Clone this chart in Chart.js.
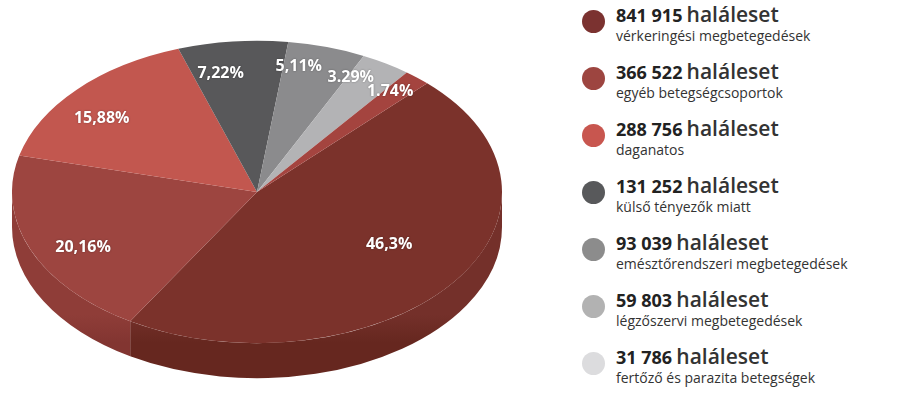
<!DOCTYPE html>
<html>
<head>
<meta charset="utf-8">
<script src="https://cdn.jsdelivr.net/npm/chart.js@4.4.1/dist/chart.umd.min.js"></script>
<style>
  html, body { margin: 0; padding: 0; background: #fff; width: 900px; height: 396px; overflow: hidden; font-family: "Open Sans", sans-serif; }
  #wrap { position: absolute; left: 12px; top: -53px; width: 490px; height: 490px; }
  .row { position: absolute; left: 582px; width: 316px; }
  .dot { position: absolute; left: 0; top: 9px; width: 23px; height: 23px; border-radius: 50%; }
  .l1 { position: absolute; left: 34px; top: 0; white-space: nowrap; line-height: 26px; color: #333; }
  .num { font-weight: 700; font-size: 18px; color: #222; }
  .hal { font-weight: 600; font-size: 21px; color: #333; }
  .l2 { position: absolute; left: 34px; top: 26px; white-space: nowrap; font-size: 14px; line-height: 18px; color: #333; }
</style>
</head>
<body>
<div id="wrap"><canvas id="pie" width="490" height="490"></canvas></div>
<div id="legend"></div>
<script>
// halálesetek száma, a jelmagyarázat sorrendjében
const deaths = [841915, 366522, 288756, 131252, 93039, 59803, 31786];
const causes = [
  "vérkeringési megbetegedések",
  "egyéb betegségcsoportok",
  "daganatos",
  "külső tényezők miatt",
  "emésztőrendszeri megbetegedések",
  "légzőszervi megbetegedések",
  "fertőző és parazita betegségek"
];
const pctLabels = ["46,3%", "20,16%", "15,88%", "7,22%", "5,11%", "3.29%", "1.74%"];

const faceColors = ["#7b322b", "#9d4540", "#c2574f", "#58585a", "#8b8b8d", "#b3b3b5", "#a4443f"];
const sideTop = ["#74302a", "#8f3d38", "#a94a44", "#4c4c4e", "#787879", "#9c9c9e", "#8f3b37"];
const sideBottom = ["#66271f", "#823531", "#98413b", "#424244", "#69696b", "#8a8a8c", "#7f3330"];
const legendColors = ["#7b3230", "#9d4540", "#c8564f", "#58595b", "#8c8c8c", "#b2b2b2", "#dcdcde"];

const squish = 0.617;  // függőleges lapítás
const depth = 35;      // oldalfal vastagsága pixelben
const labelShift = -5 * Math.PI / 180;

// legend
const legend = document.getElementById("legend");
deaths.forEach((v, i) => {
  const row = document.createElement("div");
  row.className = "row";
  row.style.top = (1 + 57 * i) + "px";
  const num = String(v).replace(/\B(?=(\d{3})+(?!\d))/g, " ");
  row.innerHTML =
    '<div class="dot" style="background:' + legendColors[i] + '"></div>' +
    '<div class="l1"><span class="num">' + num + '</span> <span class="hal">haláleset</span></div>' +
    '<div class="l2">' + causes[i] + '</div>';
  legend.appendChild(row);
});

function squishCtx(ctx, el) {
  ctx.translate(el.x, el.y);
  ctx.scale(1, squish);
  ctx.translate(-el.x, -el.y);
}

const pie3d = {
  id: "pie3d",
  beforeDatasetsDraw(chart) {
    const ctx = chart.ctx;
    const arcs = chart.getDatasetMeta(0).data;
    const d = depth / squish;
    ctx.save();
    squishCtx(ctx, arcs[0]);
    // front side wall
    arcs.forEach((el, i) => {
      const s = el.startAngle, e = el.endAngle;
      [-2 * Math.PI, 0, 2 * Math.PI].forEach(off => {
        const a1 = Math.max(s, off), a2 = Math.min(e, off + Math.PI);
        if (a2 <= a1) return;
        const g = ctx.createLinearGradient(0, el.y + el.outerRadius * 0.3, 0, el.y + el.outerRadius + d);
        g.addColorStop(0, sideTop[i]);
        g.addColorStop(0.55, sideTop[i]);
        g.addColorStop(0.75, sideBottom[i]);
        g.addColorStop(1, sideBottom[i]);
        ctx.beginPath();
        ctx.arc(el.x, el.y, el.outerRadius, a1, a2);
        ctx.arc(el.x, el.y + d, el.outerRadius, a2, a1, true);
        ctx.closePath();
        ctx.fillStyle = g;
        ctx.fill();
      });
    });
  },
  afterDatasetsDraw(chart) {
    const ctx = chart.ctx;
    ctx.restore();
    const arcs = chart.getDatasetMeta(0).data;
    const total = deaths.reduce((a, b) => a + b, 0);
    ctx.save();
    ctx.font = "bold 16px 'Open Sans'";
    ctx.fillStyle = "#fff";
    ctx.textBaseline = "middle";
    ctx.shadowColor = "rgba(0,0,0,0.35)";
    ctx.shadowBlur = 2;
    arcs.forEach((el, i) => {
      const share = deaths[i] / total;
      const mid = (el.startAngle + el.endAngle) / 2 + labelShift;
      const f = share > 0.3 ? 0.64 : (share < 0.06 ? 0.85 : 0.8);
      const x = el.x + el.outerRadius * f * Math.cos(mid);
      const y = el.y + el.outerRadius * f * squish * Math.sin(mid);
      // the thinnest slice gets its label pushed out to the side
      ctx.textAlign = share < 0.025 ? "left" : "center";
      ctx.fillText(pctLabels[i], share < 0.025 ? x - 12 : x, share < 0.025 ? y + 4 : y);
    });
    ctx.restore();
  }
};

new Chart(document.getElementById("pie"), {
  type: "pie",
  data: {
    labels: causes,
    datasets: [{
      data: deaths,
      backgroundColor: faceColors,
      borderWidth: 0
    }]
  },
  options: {
    responsive: false,
    animation: false,
    events: [],
    rotation: 44,
    layout: { padding: 0 },
    plugins: {
      legend: { display: false },
      tooltip: { enabled: false }
    }
  },
  plugins: [pie3d]
});
</script>
</body>
</html>
